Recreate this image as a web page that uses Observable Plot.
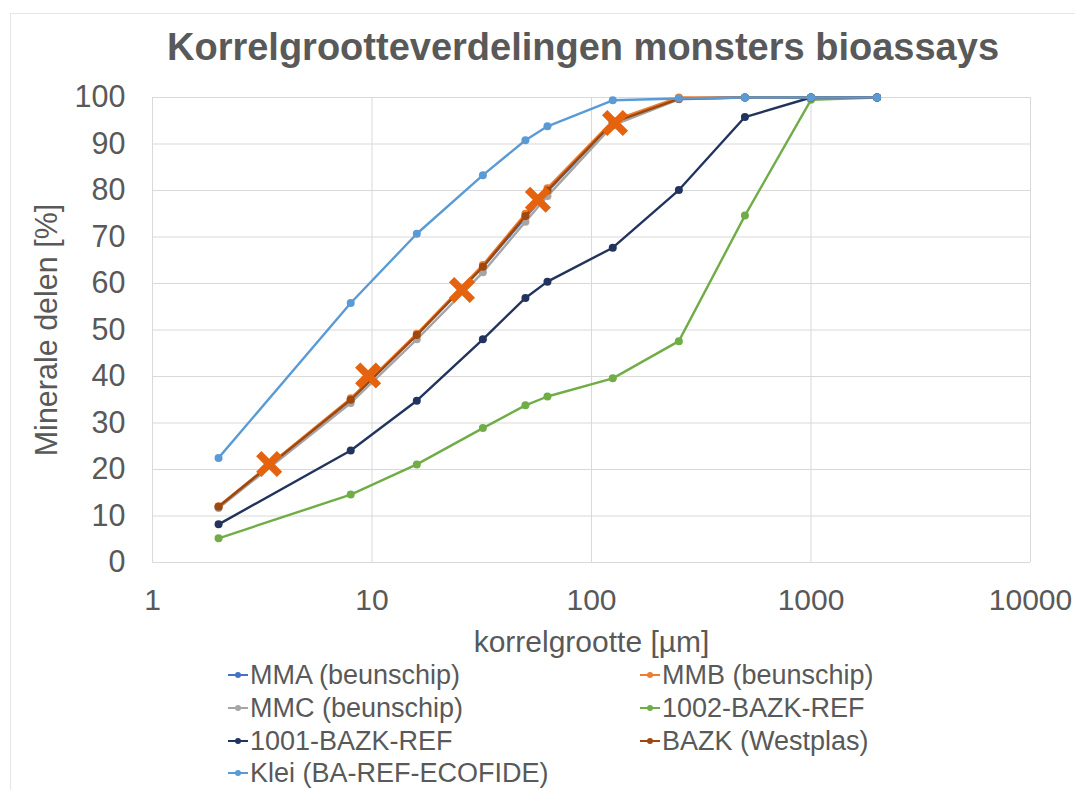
<!DOCTYPE html>
<html>
<head>
<meta charset="utf-8">
<script src="https://cdn.jsdelivr.net/npm/d3@7"></script>
<script src="https://cdn.jsdelivr.net/npm/@observablehq/plot@0.6"></script>
<style>
  html, body { margin: 0; padding: 0; background: #fff; }
  body { width: 1075px; height: 790px; position: relative; overflow: hidden;
         font-family: "Liberation Sans", Arial, sans-serif; color: #595959; }
  #frame { position: absolute; left: 10px; top: 13px; right: -5px; bottom: -5px;
           border-top: 1px solid #e6e6e6; border-left: 1px solid #e6e6e6; }
  #title { position: absolute; left: 0; width: 1166px; top: 24px; text-align: center;
           font-weight: bold; font-size: 38px; line-height: 46px; color: #595959; }
  #chart { position: absolute; left: 0; top: 70px; }
  .leg { position: absolute; font-size: 27px; line-height: 33px; white-space: nowrap; color: #595959; }
  .leg svg { vertical-align: middle; margin-right: 2px; position: relative; top: -2px; }
</style>
</head>
<body>
<div id="frame"></div>
<div id="title">Korrelgrootteverdelingen monsters bioassays</div>
<div id="chart"></div>
<div id="legend"></div>
<script>
// grain size classes (µm)
const sizes = [2, 8, 16, 32, 50, 63, 125, 250, 500, 1000, 2000];
// cumulative mineral fraction (%) per series
const mma     = [12.0, 35.0, 49.0, 63.5, 74.2, 79.8, 94.6, 99.8, 100, 100, 100];
const mmb     = [12.1, 35.3, 49.2, 64.0, 75.0, 80.5, 95.0, 100, 100, 100, 100];
const mmc     = [11.7, 34.3, 48.0, 62.4, 73.3, 78.8, 94.0, 99.6, 100, 100, 100];
const ref1002 = [5.2, 14.6, 21.1, 28.9, 33.8, 35.7, 39.6, 47.6, 74.6, 99.5, 100];
const ref1001 = [8.2, 24.1, 34.8, 48.0, 56.9, 60.4, 67.7, 80.1, 95.8, 100, 100];
const bazk    = [12.0, 35.0, 48.9, 63.6, 74.5, 80.0, 94.6, 99.7, 100, 100, 100];
const klei    = [22.5, 55.8, 70.7, 83.3, 90.8, 93.8, 99.4, 99.8, 100, 100, 100];

const seriesNames  = ["MMA (beunschip)", "MMB (beunschip)", "MMC (beunschip)", "1002-BAZK-REF", "1001-BAZK-REF", "BAZK (Westplas)", "Klei (BA-REF-ECOFIDE)"];
const seriesValues = [mma, mmb, mmc, ref1002, ref1001, bazk, klei];
const seriesColors = ["#4472C4", "#ED7D31", "#A5A5A5", "#70AD47", "#22345E", "#9E480E", "#5B9BD5"];

// highlighted points (orange crosses)
const markerSize = [3.4, 9.6, 25.7, 57, 128];
const markerPct  = [21.2, 40.2, 58.6, 78.0, 94.5];
const markerColor = "#E5620E";

const xTicks = [1, 10, 100, 1000, 10000];
const yTicks = [0, 10, 20, 30, 40, 50, 60, 70, 80, 90, 100];

const rows = [];
seriesNames.forEach((name, i) => {
  sizes.forEach((s, j) => rows.push({series: name, idx: i, size: s, pct: seriesValues[i][j]}));
});
const markers = markerSize.map((s, i) => ({size: s, pct: markerPct[i]}));

const marks = [
  Plot.gridY(yTicks, {stroke: "#d9d9d9", strokeOpacity: 1, strokeWidth: 1}),
  Plot.gridX(xTicks, {stroke: "#d9d9d9", strokeOpacity: 1, strokeWidth: 1}),
];
seriesNames.forEach((name, i) => {
  const d = rows.filter(r => r.idx === i);
  marks.push(Plot.line(d, {x: "size", y: "pct", stroke: seriesColors[i], strokeWidth: 2.4}));
  marks.push(Plot.dot(d, {x: "size", y: "pct", fill: seriesColors[i], r: 4}));
});
marks.push(Plot.dot(markers, {x: "size", y: "pct", symbol: "times", r: 9.5, stroke: markerColor, strokeWidth: 7.5}));
marks.push(Plot.axisX(xTicks, {tickSize: 0, tickPadding: 26, fontSize: 30, tickFormat: d => String(d),
  label: "korrelgrootte [µm]", labelAnchor: "center", labelArrow: "none", labelOffset: 89, color: "#595959"}));
marks.push(Plot.axisY(yTicks, {tickSize: 0, tickPadding: 27, fontSize: 30.5, tickFormat: d => String(d),
  label: "Minerale delen [%]", labelAnchor: "center", labelArrow: "none", labelOffset: 117, color: "#595959"}));

const chart = Plot.plot({
  width: 1075,
  height: 582,
  marginTop: 27,
  marginBottom: 90,
  marginLeft: 152,
  marginRight: 45,
  style: {fontFamily: "'Liberation Sans', Arial, sans-serif", color: "#595959", background: "transparent", overflow: "visible"},
  x: {type: "log", domain: [1, 10000]},
  y: {domain: [0, 100]},
  marks
});
document.getElementById("chart").appendChild(chart);

// legend (HTML, two columns)
const legendPos = [
  [228, 659], [640, 659],
  [228, 692], [640, 692],
  [228, 725], [640, 725],
  [228, 757]
];
const legend = document.getElementById("legend");
seriesNames.forEach((name, i) => {
  const div = document.createElement("div");
  div.className = "leg";
  div.style.left = legendPos[i][0] + "px";
  div.style.top = legendPos[i][1] + "px";
  const c = seriesColors[i];
  div.innerHTML = `<svg width="20" height="10"><line x1="0" x2="20" y1="5" y2="5" stroke="${c}" stroke-width="2"/><circle cx="10" cy="5" r="3" fill="${c}"/></svg>`;
  div.appendChild(document.createTextNode(name));
  legend.appendChild(div);
});
</script>
</body>
</html>
